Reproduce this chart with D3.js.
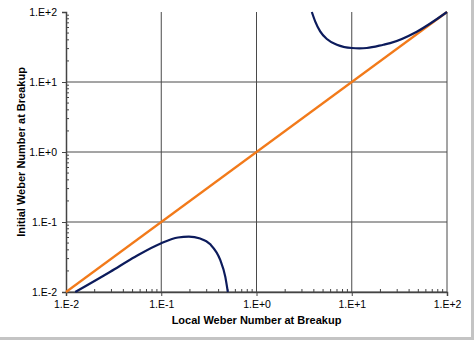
<!DOCTYPE html>
<html>
<head>
<meta charset="utf-8">
<script src="https://cdn.jsdelivr.net/npm/d3@7"></script>
<style>
  body { margin: 0; background: #fff; }
  svg { display: block; }
  .tick text { font-family: "Liberation Sans", Arial, sans-serif; font-size: 10.5px; fill: #000; }
</style>
</head>
<body>
<div id="chart"></div>
<script>
// decade tick values and their labels
const tickValues = [0.01, 0.1, 1, 10, 100];
const tickLabels = ["1.E-2", "1.E-1", "1.E+0", "1.E+1", "1.E+2"];

// lower branch
const lowX = [0.0125, 0.0292, 0.0533, 0.1, 0.15, 0.195, 0.256, 0.327, 0.416, 0.47, 0.50];
const lowY = [0.01, 0.0195, 0.0319, 0.0497, 0.060, 0.0617, 0.058, 0.048, 0.0287, 0.0166, 0.01];

// upper branch
const highX = [3.81, 4.13, 4.66, 5.48, 6.98, 10.0, 12.0, 14.4, 21.5, 25.3, 48.2, 100];
const highY = [100, 73.6, 52.9, 41.1, 34.1, 30.6, 30.3, 30.6, 34.1, 35.9, 52.3, 100];

// equality line
const diagX = [0.01, 100];
const diagY = [0.01, 100];

(function () {
  const W = 474, H = 340;
  const margin = { top: 12, right: 27, bottom: 48, left: 66 };
  const width = W - margin.left - margin.right;
  const height = H - margin.top - margin.bottom;

  const root = d3.select("#chart").append("svg")
    .attr("width", W)
    .attr("height", H);

  // frame shadow on right and bottom
  root.append("rect").attr("x", W - 3).attr("y", 0).attr("width", 3).attr("height", H).attr("fill", "#c4c4c4");
  root.append("rect").attr("x", 0).attr("y", H - 3).attr("width", W).attr("height", 3).attr("fill", "#c4c4c4");

  const svg = root.append("g")
    .attr("transform", "translate(" + margin.left + "," + margin.top + ")");

  const x = d3.scaleLog().domain([0.01, 100]).range([0, width]);
  const y = d3.scaleLog().domain([0.01, 100]).range([height, 0]);

  // grid
  svg.append("g").selectAll("line")
    .data(tickValues.slice(1))
    .join("line")
    .attr("x1", d => x(d)).attr("x2", d => x(d))
    .attr("y1", 0).attr("y2", height)
    .attr("stroke", "#4a4a4a").attr("stroke-width", 1);
  svg.append("g").selectAll("line")
    .data(tickValues.slice(0, -1))
    .join("line")
    .attr("y1", d => y(d)).attr("y2", d => y(d))
    .attr("x1", 0).attr("x2", width)
    .attr("stroke", "#4a4a4a").attr("stroke-width", 1);

  // minor ticks (inside)
  const minors = [];
  for (let e = -2; e < 2; e++) for (let m = 2; m < 10; m++) minors.push(m * Math.pow(10, e));

  svg.append("g").selectAll("line")
    .data(minors).join("line")
    .attr("x1", d => x(d)).attr("x2", d => x(d))
    .attr("y1", height).attr("y2", height - 3)
    .attr("stroke", "#444");
  svg.append("g").selectAll("line")
    .data(minors).join("line")
    .attr("y1", d => y(d)).attr("y2", d => y(d))
    .attr("x1", 0).attr("x2", 3)
    .attr("stroke", "#444");

  // axes
  const fmt = d => tickLabels[tickValues.indexOf(d)];
  const xAxis = svg.append("g")
    .attr("transform", `translate(0, ${height})`)
    .call(d3.axisBottom(x).tickValues(tickValues).tickFormat(fmt).tickSize(4).tickPadding(5));
  const yAxis = svg.append("g")
    .call(d3.axisLeft(y).tickValues(tickValues).tickFormat(fmt).tickSize(4).tickPadding(5));
  [xAxis, yAxis].forEach(a => {
    a.select(".domain").attr("stroke", "#444").attr("stroke-width", 1.5);
    a.selectAll(".tick line").attr("stroke", "#444");
  });

  const line = d3.line()
    .x(d => x(d[0]))
    .y(d => y(d[1]))
    .curve(d3.curveMonotoneX);

  svg.append("path")
    .datum(diagX.map((v, i) => [v, diagY[i]]))
    .attr("d", line)
    .attr("fill", "none")
    .attr("stroke", "#f27a1a")
    .attr("stroke-width", 2.2);

  [[lowX, lowY], [highX, highY]].forEach(([xs, ys]) => {
    svg.append("path")
      .datum(xs.map((v, i) => [v, ys[i]]))
      .attr("d", line)
      .attr("fill", "none")
      .attr("stroke", "#0c1b5c")
      .attr("stroke-width", 2.2);
  });

  // axis titles
  svg.append("text")
    .attr("x", width / 2)
    .attr("y", height + 32)
    .attr("text-anchor", "middle")
    .attr("font-family", "Liberation Sans, Arial, sans-serif")
    .attr("font-size", "11px")
    .attr("font-weight", "bold")
    .text("Local Weber Number at Breakup");

  svg.append("text")
    .attr("transform", `translate(${-margin.left + 25}, ${height / 2}) rotate(-90)`)
    .attr("text-anchor", "middle")
    .attr("font-family", "Liberation Sans, Arial, sans-serif")
    .attr("font-size", "11px")
    .attr("font-weight", "bold")
    .text("Initial Weber Number at Breakup");
})();
</script>
</body>
</html>
